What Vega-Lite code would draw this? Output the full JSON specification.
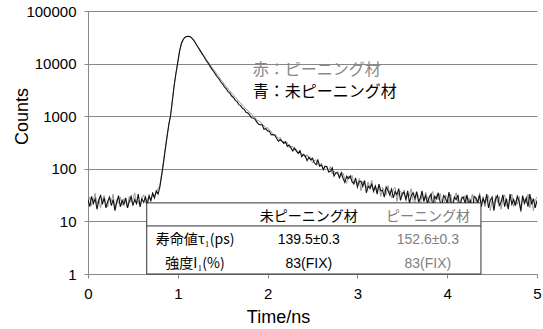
{
"$schema":"https://vega.github.io/schema/vega-lite/v6.json",
"width":449,"height":263,
"autosize":{"type":"none"},
"padding":{"left":88,"top":11,"right":6,"bottom":55},
"background":"white",
"config":{"view":{"stroke":null},"font":"Liberation Sans"},
"data":{"values":[
{"t":0.00,"u":26,"p":23},{"t":0.02,"u":19,"p":29},{"t":0.04,"u":30,"p":20},{"t":0.06,"u":22,"p":25},{"t":0.08,"u":27,"p":34},
{"t":0.10,"u":17,"p":21},{"t":0.12,"u":25,"p":27},{"t":0.14,"u":32,"p":18},{"t":0.16,"u":21,"p":26},{"t":0.18,"u":28,"p":31},
{"t":0.20,"u":18,"p":22},{"t":0.22,"u":24,"p":19},{"t":0.24,"u":29,"p":28},{"t":0.26,"u":20,"p":24},{"t":0.28,"u":26,"p":33},
{"t":0.30,"u":16,"p":17},{"t":0.32,"u":23,"p":26},{"t":0.34,"u":31,"p":22},{"t":0.36,"u":19,"p":29},{"t":0.38,"u":25,"p":20},
{"t":0.40,"u":21,"p":27},{"t":0.42,"u":28,"p":24},{"t":0.44,"u":18,"p":18},{"t":0.46,"u":24,"p":30},{"t":0.48,"u":30,"p":23},
{"t":0.50,"u":20,"p":26},{"t":0.52,"u":26,"p":35},{"t":0.54,"u":22,"p":21},{"t":0.56,"u":33,"p":25},{"t":0.58,"u":19,"p":19},
{"t":0.60,"u":27,"p":28},{"t":0.62,"u":23,"p":32},{"t":0.64,"u":29,"p":22},{"t":0.66,"u":21,"p":26},{"t":0.68,"u":31,"p":29},
{"t":0.70,"u":25,"p":24},{"t":0.72,"u":34,"p":36},{"t":0.74,"u":28,"p":30},{"t":0.76,"u":38,"p":35},{"t":0.78,"u":33,"p":42},
{"t":0.80,"u":45,"p":48},{"t":0.82,"u":74,"p":80},{"t":0.84,"u":128,"p":135},{"t":0.86,"u":232,"p":240},{"t":0.88,"u":405,"p":420},
{"t":0.90,"u":690,"p":700},{"t":0.92,"u":1040,"p":1080},{"t":0.94,"u":2010,"p":2050},{"t":0.96,"u":3880,"p":3900},{"t":0.98,"u":6620,"p":6600},
{"t":1.00,"u":10650,"p":10600},{"t":1.02,"u":17500,"p":17300},{"t":1.04,"u":24100,"p":23800},{"t":1.06,"u":28700,"p":28500},{"t":1.08,"u":31700,"p":31500},
{"t":1.10,"u":32800,"p":32700},{"t":1.12,"u":33100,"p":33000},{"t":1.14,"u":32300,"p":32300},{"t":1.16,"u":30200,"p":30300},{"t":1.18,"u":27400,"p":27600},
{"t":1.20,"u":24050,"p":24300},{"t":1.22,"u":21090,"p":21550},{"t":1.24,"u":18650,"p":19100},{"t":1.26,"u":16340,"p":17020},{"t":1.28,"u":14520,"p":14990},
{"t":1.30,"u":12760,"p":13450},{"t":1.32,"u":11240,"p":11880},{"t":1.34,"u":10070,"p":10690},{"t":1.36,"u":8870,"p":9470},{"t":1.38,"u":7840,"p":8540},
{"t":1.40,"u":7090,"p":7630},{"t":1.42,"u":6250,"p":6900},{"t":1.44,"u":5560,"p":6110},{"t":1.46,"u":5080,"p":5560},{"t":1.48,"u":4470,"p":4950},
{"t":1.50,"u":4090,"p":4520},{"t":1.52,"u":3610,"p":4030},{"t":1.54,"u":3320,"p":3700},{"t":1.56,"u":2930,"p":3300},{"t":1.58,"u":2740,"p":3050},
{"t":1.60,"u":2420,"p":2750},{"t":1.62,"u":2270,"p":2540},{"t":1.64,"u":2000,"p":2290},{"t":1.66,"u":1890,"p":2120},{"t":1.68,"u":1660,"p":1900},
{"t":1.70,"u":1590,"p":1780},{"t":1.72,"u":1410,"p":1610},{"t":1.74,"u":1350,"p":1510},{"t":1.76,"u":1190,"p":1360},{"t":1.78,"u":1150,"p":1285},
{"t":1.80,"u":1060,"p":1160},{"t":1.82,"u":936,"p":1125},{"t":1.84,"u":921,"p":995},{"t":1.86,"u":881,"p":960},{"t":1.88,"u":774,"p":826},
{"t":1.90,"u":706,"p":818},{"t":1.92,"u":688,"p":782},{"t":1.94,"u":685,"p":680},{"t":1.96,"u":564,"p":662},{"t":1.98,"u":579,"p":585},
{"t":2.00,"u":525,"p":610},{"t":2.02,"u":520,"p":536},{"t":2.04,"u":441,"p":518},{"t":2.06,"u":448,"p":429},{"t":2.08,"u":437,"p":459},
{"t":2.10,"u":381,"p":423},{"t":2.12,"u":336,"p":375},{"t":2.14,"u":359,"p":394},{"t":2.16,"u":334,"p":324},{"t":2.18,"u":304,"p":337},
{"t":2.20,"u":327,"p":305},{"t":2.22,"u":268,"p":315},{"t":2.24,"u":283,"p":253},{"t":2.26,"u":250,"p":264},{"t":2.28,"u":219,"p":269},
{"t":2.30,"u":248,"p":225},{"t":2.32,"u":219,"p":234},{"t":2.34,"u":197,"p":195},{"t":2.36,"u":219,"p":228},{"t":2.38,"u":171,"p":185},
{"t":2.40,"u":188,"p":185},{"t":2.42,"u":175,"p":161},{"t":2.44,"u":143,"p":187},{"t":2.46,"u":167,"p":156},{"t":2.48,"u":148,"p":162},
{"t":2.50,"u":159,"p":129},{"t":2.52,"u":130,"p":144},{"t":2.54,"u":119,"p":148},{"t":2.56,"u":147,"p":118},{"t":2.58,"u":112,"p":119},
{"t":2.60,"u":119,"p":128},{"t":2.62,"u":97,"p":93},{"t":2.64,"u":112,"p":113},{"t":2.66,"u":110,"p":104},{"t":2.68,"u":87,"p":92},
{"t":2.70,"u":90,"p":111},{"t":2.72,"u":104,"p":80},{"t":2.74,"u":73,"p":91},{"t":2.76,"u":84,"p":80},{"t":2.78,"u":84,"p":89},
{"t":2.80,"u":68,"p":66},{"t":2.82,"u":84,"p":80},{"t":2.84,"u":66,"p":83},{"t":2.86,"u":55,"p":63},{"t":2.88,"u":72,"p":53},
{"t":2.90,"u":65,"p":72},{"t":2.92,"u":73,"p":65},{"t":2.94,"u":57,"p":75},{"t":2.96,"u":52,"p":50},{"t":2.98,"u":67,"p":58},
{"t":3.00,"u":45,"p":52},{"t":3.02,"u":57,"p":65},{"t":3.04,"u":58,"p":38},{"t":3.06,"u":46,"p":57},{"t":3.08,"u":60,"p":52},
{"t":3.10,"u":35,"p":43},{"t":3.12,"u":47,"p":56},{"t":3.14,"u":42,"p":44},{"t":3.16,"u":51,"p":60},{"t":3.18,"u":38,"p":35},
{"t":3.20,"u":47,"p":47},{"t":3.22,"u":33,"p":38},{"t":3.24,"u":51,"p":48},{"t":3.26,"u":38,"p":30},{"t":3.28,"u":39,"p":44},
{"t":3.30,"u":29,"p":39},{"t":3.32,"u":45,"p":32},{"t":3.34,"u":39,"p":48},{"t":3.36,"u":32,"p":35},{"t":3.38,"u":41,"p":28},
{"t":3.40,"u":28,"p":42},{"t":3.42,"u":37,"p":44},{"t":3.44,"u":32,"p":24},{"t":3.46,"u":42,"p":35},{"t":3.48,"u":25,"p":38},
{"t":3.50,"u":34,"p":30},{"t":3.52,"u":36,"p":40},{"t":3.54,"u":26,"p":24},{"t":3.56,"u":38,"p":34},{"t":3.58,"u":22,"p":31},
{"t":3.60,"u":31,"p":42},{"t":3.62,"u":35,"p":25},{"t":3.64,"u":27,"p":23},{"t":3.66,"u":37,"p":34},{"t":3.68,"u":24,"p":31},
{"t":3.70,"u":27,"p":20},{"t":3.72,"u":38,"p":35},{"t":3.74,"u":24,"p":24},{"t":3.76,"u":31,"p":36},{"t":3.78,"u":22,"p":28},
{"t":3.80,"u":29,"p":22},{"t":3.82,"u":33,"p":31},{"t":3.84,"u":19,"p":37},{"t":3.86,"u":30,"p":17},{"t":3.88,"u":27,"p":32},
{"t":3.90,"u":35,"p":26},{"t":3.92,"u":24,"p":34},{"t":3.94,"u":20,"p":24},{"t":3.96,"u":31,"p":18},{"t":3.98,"u":28,"p":32},
{"t":4.00,"u":22,"p":29},{"t":4.02,"u":36,"p":21},{"t":4.04,"u":24,"p":33},{"t":4.06,"u":20,"p":20},{"t":4.08,"u":29,"p":27},
{"t":4.10,"u":26,"p":35},{"t":4.12,"u":32,"p":22},{"t":4.14,"u":18,"p":18},{"t":4.16,"u":27,"p":30},{"t":4.18,"u":29,"p":26},
{"t":4.20,"u":22,"p":31},{"t":4.22,"u":32,"p":15},{"t":4.24,"u":20,"p":28},{"t":4.26,"u":26,"p":23},{"t":4.28,"u":16,"p":33},
{"t":4.30,"u":30,"p":20},{"t":4.32,"u":28,"p":28},{"t":4.34,"u":23,"p":18},{"t":4.36,"u":32,"p":35},{"t":4.38,"u":19,"p":23},
{"t":4.40,"u":28,"p":27},{"t":4.42,"u":22,"p":19},{"t":4.44,"u":33,"p":29},{"t":4.46,"u":18,"p":31},{"t":4.48,"u":25,"p":16},
{"t":4.50,"u":29,"p":25},{"t":4.52,"u":16,"p":21},{"t":4.54,"u":27,"p":31},{"t":4.56,"u":31,"p":23},{"t":4.58,"u":20,"p":30},
{"t":4.60,"u":23,"p":17},{"t":4.62,"u":32,"p":27},{"t":4.64,"u":19,"p":32},{"t":4.66,"u":27,"p":20},{"t":4.68,"u":17,"p":18},
{"t":4.70,"u":33,"p":27},{"t":4.72,"u":21,"p":33},{"t":4.74,"u":26,"p":19},{"t":4.76,"u":20,"p":25},{"t":4.78,"u":30,"p":21},
{"t":4.80,"u":24,"p":30},{"t":4.82,"u":16,"p":15},{"t":4.84,"u":31,"p":28},{"t":4.86,"u":22,"p":26},{"t":4.88,"u":28,"p":22},
{"t":4.90,"u":19,"p":33},{"t":4.92,"u":33,"p":18},{"t":4.94,"u":21,"p":28},{"t":4.96,"u":27,"p":16},{"t":4.98,"u":18,"p":25},
{"t":5.00,"u":25,"p":29}
]},
"layer":[
{"mark":{"type":"line","color":"#9a9a9a","strokeWidth":1,"clip":true},
 "encoding":{
  "x":{"field":"t","type":"quantitative","scale":{"domain":[0,5],"nice":false,"zero":false},
   "axis":{"values":[0,1,2,3,4,5],"format":"d","grid":false,"domainColor":"#888","tickColor":"#888","tickSize":4,"labelFontSize":15,"labelColor":"#000","labelPadding":8,"labelFlush":false,
    "title":"Time/ns","titleFontSize":18,"titleFontWeight":"normal","titleColor":"#000","titleX":190,"titleY":43,"titleAlign":"center","titleBaseline":"middle"}},
  "y":{"field":"p","type":"quantitative","scale":{"type":"log","domain":[1,100000],"nice":false},
   "axis":{"values":[1,10,100,1000,10000,100000],"format":"d","grid":true,"gridColor":"#888","gridOpacity":1,"domainColor":"#888","tickColor":"#888","tickSize":4,"labelFontSize":15,"labelColor":"#000","labelPadding":8,"labelFlush":false,
    "title":"Counts","titleFontSize":18,"titleFontWeight":"normal","titleColor":"#000","titleX":-66,"titleY":105,"titleAlign":"center","titleBaseline":"middle"}}
 }},
{"mark":{"type":"line","color":"#111111","strokeWidth":1.1,"clip":true},
 "encoding":{"x":{"field":"t","type":"quantitative"},"y":{"field":"u","type":"quantitative"}}},
{"data":{"values":[{}]},"mark":{"type":"rect","fill":"white","stroke":"#333333","strokeWidth":1},
 "encoding":{"x":{"datum":0.654},"x2":{"datum":4.376},"y":{"datum":22.5},"y2":{"datum":1}}},
{"data":{"values":[{}]},"mark":{"type":"rule","color":"#333333","strokeWidth":1},
 "encoding":{"x":{"datum":0.654},"x2":{"datum":4.376},"y":{"datum":8.2}}},
{"data":{"values":[{}]},"mark":{"type":"text","text":"未ピーニング材","font":"Noto Sans CJK JP","fontSize":14,"color":"#000","align":"center","baseline":"middle"},
 "encoding":{"x":{"datum":2.459},"y":{"datum":12.3}}},
{"data":{"values":[{}]},"mark":{"type":"text","text":"ピーニング材","font":"Noto Sans CJK JP","fontSize":14,"color":"#808080","align":"center","baseline":"middle"},
 "encoding":{"x":{"datum":3.785},"y":{"datum":12.3}}},
{"data":{"values":[{}]},"mark":{"type":"text","text":"寿命値τ₁(ps)","font":"Noto Sans CJK JP","fontSize":14,"color":"#000","align":"center","baseline":"middle"},
 "encoding":{"x":{"datum":1.192},"y":{"datum":4.44}}},
{"data":{"values":[{}]},"mark":{"type":"text","text":"強度I₁(%)","font":"Noto Sans CJK JP","fontSize":14,"color":"#000","align":"center","baseline":"middle"},
 "encoding":{"x":{"datum":1.192},"y":{"datum":1.55}}},
{"data":{"values":[{}]},"mark":{"type":"text","text":"139.5±0.3","fontSize":14,"color":"#000","align":"center","baseline":"middle"},
 "encoding":{"x":{"datum":2.459},"y":{"datum":4.44}}},
{"data":{"values":[{}]},"mark":{"type":"text","text":"83(FIX)","fontSize":14,"color":"#000","align":"center","baseline":"middle"},
 "encoding":{"x":{"datum":2.459},"y":{"datum":1.55}}},
{"data":{"values":[{}]},"mark":{"type":"text","text":"152.6±0.3","fontSize":14,"color":"#808080","align":"center","baseline":"middle"},
 "encoding":{"x":{"datum":3.785},"y":{"datum":4.44}}},
{"data":{"values":[{}]},"mark":{"type":"text","text":"83(FIX)","fontSize":14,"color":"#808080","align":"center","baseline":"middle"},
 "encoding":{"x":{"datum":3.785},"y":{"datum":1.55}}},
{"data":{"values":[{}]},"mark":{"type":"text","text":"赤：ピーニング材","font":"Noto Sans CJK JP","fontSize":16,"color":"#888888","align":"left","baseline":"middle"},
 "encoding":{"x":{"datum":1.835},"y":{"datum":7690}}},
{"data":{"values":[{}]},"mark":{"type":"text","text":"青：未ピーニング材","font":"Noto Sans CJK JP","fontSize":16,"color":"#000","align":"left","baseline":"middle"},
 "encoding":{"x":{"datum":1.835},"y":{"datum":2930}}}
]
}
